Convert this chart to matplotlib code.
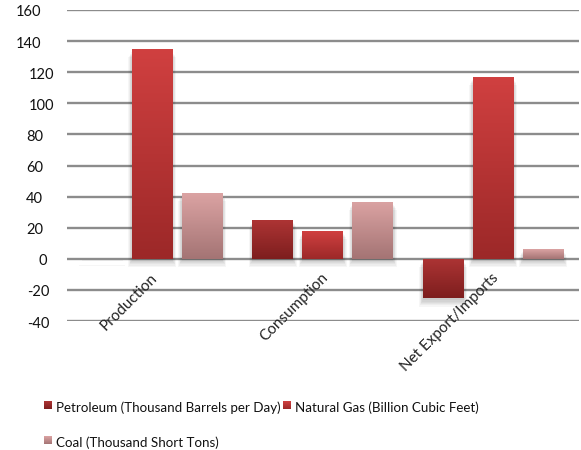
import numpy as np
import matplotlib
matplotlib.use("Agg")
import matplotlib.pyplot as plt
from matplotlib.colors import LinearSegmentedColormap, to_rgb
from matplotlib.patches import Rectangle
from matplotlib.transforms import ScaledTranslation, IdentityTransform, blended_transform_factory

plt.rcParams['font.family'] = ['Lato', 'DejaVu Sans']

categories = ["Production", "Consumption", "Net Export/Imports"]
series_names = ["Petroleum (Thousand Barrels per Day)",
                "Natural Gas (Billion Cubic Feet)",
                "Coal (Thousand Short Tons)"]
petroleum = [0, 25, -25.5]
natural_gas = [134.6, 18, 117]
coal = [42.4, 36.7, 6.4]
y_ticks = [-40, -20, 0, 20, 40, 60, 80, 100, 120, 140, 160]

# (top colour, bottom colour) of each series' vertical gradient
gradients = [("#ad3434", "#7d1e1e"),
             ("#d04040", "#9c2828"),
             ("#dba3a3", "#a47474")]

W, H = 581, 450
fig = plt.figure(figsize=(W / 100, H / 100), dpi=100)
ax = fig.add_axes([67 / W, 1 - 321 / H, 511.5 / W, 311 / H])
ax.set_xlim(-0.5, len(categories) - 0.5)
ax.set_ylim(-40, 160)

for t in y_ticks:
    ax.axhline(t, color="#8c8c8c", lw=1.7, zorder=1)

x = np.arange(len(categories))
width = 0.24
step = 0.293
all_series = [petroleum, natural_gas, coal]

for i, vals in enumerate(all_series):
    top_c, bot_c = gradients[i]
    cmap = LinearSegmentedColormap.from_list(f"g{i}", [bot_c, top_c])
    xs = x + (i - 1) * step
    bars = ax.bar(xs, vals, width, color="none", edgecolor="none", zorder=3)
    for b in bars:
        x0 = b.get_x()
        w = b.get_width()
        y0 = b.get_y()
        h = b.get_height()
        lo, hi = min(y0, y0 + h), max(y0, y0 + h)
        # soft drop shadow below each bar
        for k in range(6):
            ax.add_patch(Rectangle((x0 - 0.004 * k, lo - 1.2 - 0.8 * k),
                                   w + 0.008 * k, (hi - lo) + 0.2,
                                   facecolor="black", alpha=0.035,
                                   edgecolor="none", zorder=2))
        if hi - lo <= 0:
            continue
        grad = np.linspace(1, 0, 128).reshape(-1, 1)
        im = ax.imshow(grad, cmap=cmap, aspect="auto",
                       extent=(x0, x0 + w, lo, hi), zorder=3,
                       interpolation="bilinear")
        im.set_clip_path(b)

ax.set_xlim(-0.5, len(categories) - 0.5)
ax.set_ylim(-40, 160)

for s in ax.spines.values():
    s.set_visible(False)
ax.set_xticks([])
ax.set_yticks([])

# y labels: right edge offsets (px from the plot's left edge), per tick
ylabel_right_px = [-18, -18, -20, -24, -24, -24, -24, -13, -13, -26, -26]
ytrans = blended_transform_factory(ax.transAxes, ax.transData)
for t, dx in zip(y_ticks, ylabel_right_px):
    off = ScaledTranslation(dx / 100, -2.5 / 100, fig.dpi_scale_trans)
    ax.text(0, t, str(t), transform=ytrans + off, ha="right", va="center",
            fontsize=10.5, color="#111111", clip_on=False)

# category labels sit just under the zero line, rotated 45 degrees
xoff = ScaledTranslation(-2 / 100, -12 / 100, fig.dpi_scale_trans)
for xi, lab in zip(x, categories):
    ax.text(xi, 0, lab, transform=ax.transData + xoff, rotation=45,
            rotation_mode="anchor", ha="right", va="top", fontsize=11,
            color="#222222", clip_on=False)

# legend: gradient squares and labels, in pixel positions
pix = IdentityTransform()
legend_slots = [(44, 408), (283, 408), (44, 443)]
sq = 8
for i, (name, (lx, ly)) in enumerate(zip(series_names, legend_slots)):
    top_c, bot_c = (np.array(to_rgb(c)) for c in gradients[i])
    yc = H - ly + 3
    nb = 8
    for k in range(nb):
        f = (k + 0.5) / nb
        col = bot_c + (top_c - bot_c) * f
        fig.add_artist(Rectangle((lx, yc - sq / 2 + k * sq / nb), sq, sq / nb,
                                 facecolor=col, edgecolor="none",
                                 transform=pix))
    fig.text(lx + 12, H - ly, name, transform=pix, ha="left",
             va="center", fontsize=9.6, color="#111111")

fig.savefig("out.png", dpi=100)
